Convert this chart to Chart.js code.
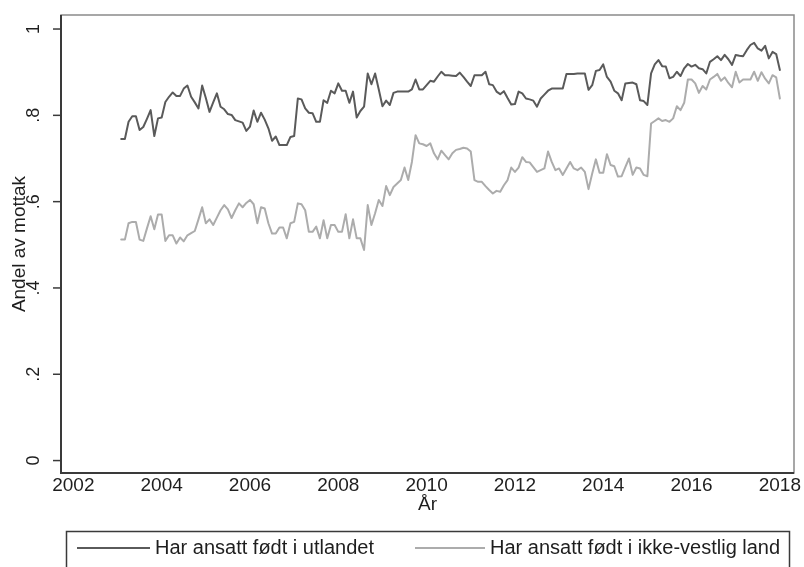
<!DOCTYPE html>
<html>
<head>
<meta charset="utf-8">
<script src="https://cdn.jsdelivr.net/npm/chart.js@4/dist/chart.umd.min.js"></script>
<style>
  html, body { margin: 0; padding: 0; background: #ffffff; }
  #wrap { width: 804px; height: 567px; }
</style>
</head>
<body>
<div id="wrap"><canvas id="c" width="804" height="567"></canvas></div>
<script>
// Axis ticks
const xTicks = [2002, 2004, 2006, 2008, 2010, 2012, 2014, 2016, 2018];
const yTicks = [0, 0.2, 0.4, 0.6, 0.8, 1];
const yTickLabels = ['0', '.2', '.4', '.6', '.8', '1'];

// Series names
const seriesNames = ['Har ansatt født i utlandet', 'Har ansatt født i ikke-vestlig land'];

// Monthly shares, 2003m1 .. 2017m12
const utlandet = [
  0.745, 0.745, 0.785, 0.798, 0.798, 0.766, 0.773, 0.792, 0.812, 0.752, 0.793, 0.795,
  0.831, 0.843, 0.853, 0.845, 0.845, 0.862, 0.869, 0.843, 0.830, 0.816, 0.869, 0.840,
  0.808, 0.830, 0.851, 0.820, 0.814, 0.803, 0.801, 0.789, 0.786, 0.783, 0.764, 0.774,
  0.811, 0.785, 0.806, 0.790, 0.770, 0.741, 0.751, 0.731, 0.731, 0.731, 0.750, 0.752,
  0.839, 0.837, 0.816, 0.806, 0.805, 0.785, 0.785, 0.835, 0.829, 0.857, 0.851, 0.874,
  0.857, 0.857, 0.829, 0.855, 0.795, 0.810, 0.820, 0.897, 0.872, 0.897, 0.860, 0.821,
  0.834, 0.824, 0.852, 0.855, 0.855, 0.855, 0.855, 0.860, 0.883, 0.860, 0.860, 0.870,
  0.880, 0.878, 0.890, 0.901, 0.893, 0.893, 0.892, 0.891, 0.899, 0.889, 0.878, 0.868,
  0.893, 0.893, 0.893, 0.901, 0.872, 0.870, 0.855, 0.849, 0.856, 0.840, 0.825, 0.826,
  0.855, 0.851, 0.839, 0.837, 0.834, 0.820, 0.839, 0.848, 0.857, 0.862, 0.862, 0.862,
  0.862, 0.896, 0.896, 0.896, 0.897, 0.897, 0.897, 0.859, 0.870, 0.903, 0.905, 0.918,
  0.889, 0.878, 0.857, 0.851, 0.835, 0.874, 0.875, 0.876, 0.872, 0.835, 0.833, 0.824,
  0.897, 0.918, 0.928, 0.914, 0.913, 0.886, 0.889, 0.901, 0.891, 0.909, 0.919, 0.913,
  0.917, 0.909, 0.907, 0.897, 0.924, 0.930, 0.937, 0.928, 0.940, 0.930, 0.917, 0.940,
  0.938, 0.937, 0.951, 0.963, 0.968, 0.955, 0.950, 0.961, 0.932, 0.947, 0.942, 0.905
];
const ikkeVestlig = [
  0.512, 0.512, 0.550, 0.553, 0.553, 0.512, 0.509, 0.538, 0.566, 0.536, 0.570, 0.570,
  0.509, 0.522, 0.522, 0.503, 0.517, 0.508, 0.522, 0.527, 0.532, 0.559, 0.587, 0.550,
  0.559, 0.546, 0.563, 0.580, 0.592, 0.582, 0.562, 0.580, 0.596, 0.587, 0.597, 0.604,
  0.594, 0.550, 0.587, 0.584, 0.550, 0.526, 0.526, 0.540, 0.540, 0.515, 0.550, 0.553,
  0.596, 0.594, 0.580, 0.530, 0.530, 0.542, 0.515, 0.557, 0.515, 0.546, 0.546, 0.530,
  0.530, 0.571, 0.515, 0.559, 0.515, 0.515, 0.488, 0.592, 0.546, 0.573, 0.604, 0.590,
  0.636, 0.615, 0.634, 0.642, 0.650, 0.679, 0.650, 0.692, 0.754, 0.735, 0.733, 0.729,
  0.735, 0.712, 0.698, 0.718, 0.708, 0.698, 0.712, 0.720, 0.722, 0.725, 0.723, 0.716,
  0.650, 0.646, 0.646, 0.636, 0.627, 0.619, 0.625, 0.623, 0.638, 0.650, 0.679, 0.669,
  0.679, 0.703, 0.692, 0.691, 0.680, 0.669, 0.673, 0.677, 0.716, 0.692, 0.673, 0.677,
  0.662, 0.677, 0.692, 0.677, 0.673, 0.679, 0.669, 0.629, 0.665, 0.698, 0.667, 0.667,
  0.710, 0.685, 0.682, 0.658, 0.659, 0.680, 0.700, 0.662, 0.679, 0.677, 0.662, 0.659,
  0.781, 0.787, 0.793, 0.787, 0.789, 0.785, 0.793, 0.821, 0.812, 0.829, 0.883, 0.883,
  0.874, 0.852, 0.868, 0.860, 0.883, 0.889, 0.896, 0.880, 0.888, 0.875, 0.865, 0.901,
  0.876, 0.883, 0.883, 0.883, 0.901, 0.880, 0.900, 0.885, 0.874, 0.893, 0.888, 0.839
];

const firstYear = 2003;
// time variable: year + month/12
const toPoints = arr => arr.map((v, i) => ({ x: firstYear + (i + 1) / 12, y: v }));

const FONT = 'Liberation Sans, Arial, Helvetica, sans-serif';
const TEXT = '#1e1e1e';

const stataFrame = {
  id: 'stataFrame',
  afterDraw(chart) {
    const { ctx, chartArea: a, scales: { y } } = chart;
    ctx.save();
    // plot region outline
    ctx.strokeStyle = '#8a8a8a';
    ctx.lineWidth = 1.5;
    ctx.strokeRect(a.left, a.top, a.right - a.left, a.bottom - a.top);
    // axis lines
    ctx.strokeStyle = '#3a3a3a';
    ctx.lineWidth = 2;
    ctx.beginPath();
    ctx.moveTo(a.left, a.top);
    ctx.lineTo(a.left, a.bottom);
    ctx.lineTo(a.right, a.bottom);
    ctx.stroke();
    // y ticks and rotated labels
    ctx.lineWidth = 1.5;
    ctx.fillStyle = TEXT;
    ctx.font = '18px ' + FONT;
    ctx.textAlign = 'center';
    ctx.textBaseline = 'alphabetic';
    yTicks.forEach((v, i) => {
      const py = y.getPixelForValue(v);
      ctx.beginPath();
      ctx.moveTo(a.left - 8, py);
      ctx.lineTo(a.left, py);
      ctx.stroke();
      ctx.save();
      ctx.translate(38.5, py);
      ctx.rotate(-Math.PI / 2);
      ctx.fillText(yTickLabels[i], 0, 0);
      ctx.restore();
    });
    // axis titles
    ctx.font = '19px ' + FONT;
    ctx.save();
    ctx.translate(25, (a.top + a.bottom) / 2);
    ctx.rotate(-Math.PI / 2);
    ctx.fillText('Andel av mottak', 0, 0);
    ctx.restore();
    ctx.textBaseline = 'middle';
    ctx.fillText('År', (a.left + a.right) / 2, 505);
    // legend
    ctx.strokeStyle = '#3a3a3a';
    ctx.lineWidth = 1.5;
    ctx.strokeRect(66.5, 531.5, 723, 60);
    const items = [
      { x0: 77, x1: 150 },
      { x0: 415, x1: 485 }
    ];
    const ly = 548;
    ctx.font = '20px ' + FONT;
    ctx.textAlign = 'left';
    chart.data.datasets.forEach((ds, i) => {
      const it = items[i];
      ctx.strokeStyle = ds.borderColor;
      ctx.lineWidth = ds.borderWidth;
      ctx.beginPath();
      ctx.moveTo(it.x0, ly);
      ctx.lineTo(it.x1, ly);
      ctx.stroke();
      ctx.fillStyle = TEXT;
      ctx.fillText(ds.label, it.x1 + 5, ly);
    });
    ctx.restore();
  }
};

new Chart(document.getElementById('c'), {
  type: 'line',
  data: {
    datasets: [
      { label: seriesNames[0], data: toPoints(utlandet), borderColor: '#5a5a5a', borderWidth: 2 },
      { label: seriesNames[1], data: toPoints(ikkeVestlig), borderColor: '#acacac', borderWidth: 2 }
    ]
  },
  options: {
    responsive: false,
    animation: false,
    devicePixelRatio: 1,
    layout: { padding: { top: 15, right: 10, left: 0, bottom: 0 } },
    elements: { point: { radius: 0 }, line: { tension: 0, borderJoinStyle: 'round', borderCapStyle: 'round' } },
    plugins: { legend: { display: false }, tooltip: { enabled: false } },
    scales: {
      x: {
        type: 'linear',
        min: 2001.72,
        max: 2018.32,
        afterBuildTicks: s => { s.ticks = xTicks.map(v => ({ value: v })); },
        afterFit: s => { s.height = 94; },
        grid: { display: false, drawTicks: false },
        border: { display: false },
        ticks: {
          autoSkip: false, maxRotation: 0, padding: 1, color: TEXT,
          font: { family: FONT, size: 19 },
          callback: v => String(v)
        }
      },
      y: {
        type: 'linear',
        min: -0.0288,
        max: 1.0325,
        afterBuildTicks: s => { s.ticks = yTicks.map(v => ({ value: v })); },
        afterFit: s => { s.width = 61; },
        grid: { display: false, drawTicks: false },
        border: { display: false },
        ticks: { display: false }
      }
    }
  },
  plugins: [stataFrame]
});
</script>
</body>
</html>
